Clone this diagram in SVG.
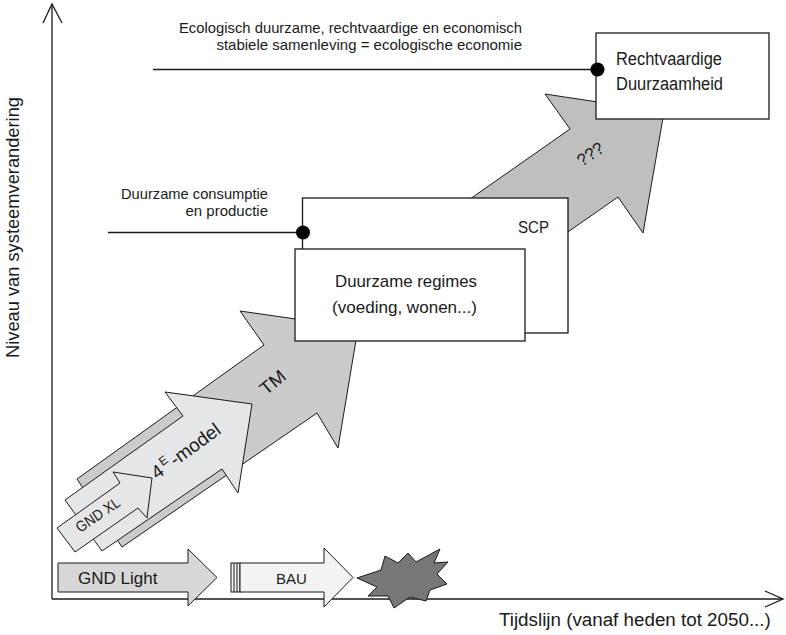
<svg xmlns="http://www.w3.org/2000/svg" width="786" height="635" viewBox="0 0 786 635">
<defs>
<style>
text{font-family:"Liberation Sans",Arial,sans-serif;fill:#1a1a1a}
.ax{stroke:#1a1a1a;stroke-width:1.3;fill:none}
.box{fill:#fff;stroke:#1a1a1a;stroke-width:1.3}
.arr{stroke:#1a1a1a;stroke-width:1;stroke-linejoin:miter}
.lead{stroke:#1a1a1a;stroke-width:1.4}
.dot{fill:#000}
</style>
</defs>
<rect width="786" height="635" fill="#fff"/>
<g id="axes">
<polyline class="ax" points="52,599 52,4"/>
<polyline class="ax" points="43,23 52,4 62,23"/>
<polyline class="ax" points="52,599 783,599"/>
<polyline class="ax" points="765,591 783,599 765,607"/>
<text x="499" y="626" font-size="18.8">Tijdslijn (vanaf heden tot 2050...)</text>
<text transform="translate(19,227.5) rotate(-90)" x="0" y="0" font-size="17.5" text-anchor="middle" textLength="261" lengthAdjust="spacingAndGlyphs">Niveau van systeemverandering</text>
</g>
<g id="tm-arrow">
<polygon class="arr" fill="#cbcbcc" points="77,479 264,345 240,311 358,328 338,448 317,413 122,547"/>
<text transform="translate(266,396) rotate(-40)" font-size="18" textLength="28" lengthAdjust="spacingAndGlyphs">TM</text>
</g>
<g id="qqq-arrow">
<polygon class="arr" fill="#bfbfbf" points="440,220 570,129 545,94 664,112 643,233 618,197 487.6,288"/>
<text transform="translate(582,167) rotate(-35)" font-size="17">???</text>
</g>
<g id="connectors">
<line class="lead" x1="153" y1="69.5" x2="597" y2="69.5"/>
<line class="lead" x1="108" y1="232.5" x2="303" y2="232.5"/>
</g>
<g id="scp">
<rect class="box" x="302.5" y="198" width="265.5" height="135"/>
<text x="549" y="233" font-size="17" text-anchor="end" textLength="31" lengthAdjust="spacingAndGlyphs">SCP</text>
</g>
<g id="regimes">
<rect class="box" x="295" y="249" width="230" height="92"/>
<text x="335" y="287" font-size="17" textLength="142" lengthAdjust="spacingAndGlyphs">Duurzame regimes</text>
<text x="332" y="313" font-size="17" textLength="145" lengthAdjust="spacingAndGlyphs">(voeding, wonen...)</text>
</g>
<g id="rechtvaardige">
<rect class="box" x="596" y="33" width="173" height="86"/>
<text x="616" y="65" font-size="18" textLength="106" lengthAdjust="spacingAndGlyphs">Rechtvaardige</text>
<text x="616" y="90" font-size="18" textLength="107" lengthAdjust="spacingAndGlyphs">Duurzaamheid</text>
</g>
<g id="labels">
<text x="522" y="33.3" font-size="15" text-anchor="end" textLength="343" lengthAdjust="spacingAndGlyphs">Ecologisch duurzame, rechtvaardige en economisch</text>
<text x="522" y="50" font-size="15" text-anchor="end">stabiele samenleving = ecologische economie</text>
<text x="268" y="199" font-size="15" text-anchor="end" textLength="147" lengthAdjust="spacingAndGlyphs">Duurzame consumptie</text>
<text x="268" y="216" font-size="15" text-anchor="end">en productie</text>
</g>
<g id="dots">
<circle class="dot" cx="597.5" cy="69.5" r="7"/>
<circle class="dot" cx="303" cy="232.5" r="7"/>
</g>
<g id="e4-arrow">
<polygon class="arr" fill="#e5e6e7" points="65,500 183,416 165,392 252,404 238,493 222,469 102,551"/>
<text transform="translate(157,480) rotate(-36)" font-size="19">4<tspan font-size="12" dx="2" dy="-8">E</tspan><tspan dx="2" dy="8">-model</tspan></text>
</g>
<g id="gndxl-arrow">
<polygon class="arr" fill="#e6e6e6" points="57,528 120,483 113,472 152,478 147,518 138,508 75,552"/>
<text transform="translate(80,533) rotate(-34)" font-size="15" textLength="50" lengthAdjust="spacingAndGlyphs">GND XL</text>
</g>
<g id="gndlight-arrow">
<polygon class="arr" fill="#d7d7d7" points="58,563 188,563 188,549 217,577.5 188,606 188,592 58,592"/>
<text x="78" y="583.5" font-size="17">GND Light</text>
</g>
<g id="bau-arrow">
<rect class="arr" fill="#f3f3f3" x="231" y="563" width="9" height="29"/>
<line class="arr" x1="234" y1="563" x2="234" y2="592"/>
<line class="arr" x1="237" y1="563" x2="237" y2="592"/>
<polygon class="arr" fill="#f3f3f3" points="240,563 324,563 324,548 353,577.5 324,607 324,592 240,592"/>
<text x="291.5" y="583.5" font-size="15" text-anchor="middle">BAU</text>
</g>
<g id="explosion">
<polygon class="arr" fill="#777777" points="357,578 381,570 385,556 398,563 408,553 416,562 440,549 434,563 448,562 437,574 447,584 430,590 426,601 410,597 394,608 388,596 368,596 377,587"/>
</g>
</svg>
